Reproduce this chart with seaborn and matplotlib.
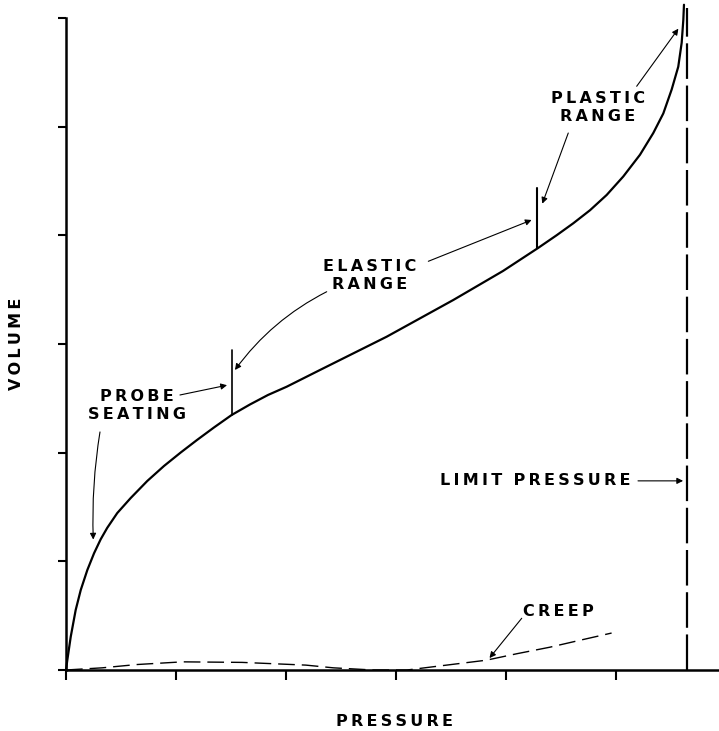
import numpy as np
import pandas as pd
import matplotlib
matplotlib.use("Agg")
import matplotlib.pyplot as plt
import seaborn as sns

# pressuremeter test curve (pressure / volume, arbitrary units = tick spacing)
curve_p = [0.0, 0.012, 0.043, 0.088, 0.134, 0.194, 0.255, 0.315, 0.375, 0.466,
           0.588, 0.739, 0.891, 1.043, 1.191, 1.345, 1.506, 1.673, 1.836,
           2.006, 2.309, 2.915, 3.521, 3.973, 4.291,
           4.461, 4.612, 4.764, 4.915, 5.066, 5.218, 5.339, 5.43, 5.506,
           5.566, 5.597, 5.612, 5.618]
curve_v = [0.0, 0.092, 0.306, 0.552, 0.736, 0.92, 1.074, 1.202, 1.308, 1.444,
           1.582, 1.739, 1.877, 2.001, 2.116, 2.231, 2.346, 2.443, 2.530,
           2.606, 2.76, 3.066, 3.404, 3.671, 3.882,
           4.00, 4.11, 4.23, 4.37, 4.54, 4.74, 4.94, 5.12, 5.34,
           5.55, 5.77, 5.98, 6.12]

# creep curve
creep_p = [0.0, 0.33, 0.64, 1.06, 1.6, 2.18, 2.43, 2.79, 3.1, 3.34, 3.82, 4.1, 4.4, 4.7, 4.96]
creep_v = [0.0, 0.02, 0.05, 0.075, 0.07, 0.045, 0.02, 0.0, 0.0, 0.03, 0.09, 0.15, 0.21, 0.28, 0.34]

limit_pressure = 5.648
elastic_start = 1.506
elastic_end = 4.28

x_ticks = [0, 1, 2, 3, 4, 5]
y_ticks = [0, 1, 2, 3, 4, 5, 6]

sns.set_style("ticks")
plt.rcParams["font.family"] = ["DejaVu Sans"]


def spaced(s):
    # letter-spaced caption like the drawing's lettering
    return "\u2009".join(s)


df_curve = pd.DataFrame({"p": curve_p, "v": curve_v})
df_creep = pd.DataFrame({"p": creep_p, "v": creep_v})

fig = plt.figure(figsize=(7.19, 7.31), dpi=100)
ax = fig.add_axes([66 / 719, 61 / 731, 653 / 719, 670 / 731])

sns.lineplot(data=df_curve, x="p", y="v", sort=False, color="black", lw=1.6, ax=ax, clip_on=False)
sns.lineplot(data=df_creep, x="p", y="v", sort=False, color="black", lw=1.0, ax=ax,
             dashes=False, linestyle=(0, (12, 5)))

# limit pressure line
ax.plot([limit_pressure, limit_pressure], [0, 6.09], color="black", lw=1.6,
        linestyle=(0, (16, 3)), clip_on=False)

# range markers
ax.plot([elastic_start, elastic_start], [2.346, 2.94], color="black", lw=1.2)
ax.plot([elastic_end, elastic_end], [3.88, 4.43], color="black", lw=1.5)

ax.set_xlim(0, 653 / 110)
ax.set_ylim(0, 670 / 108.7)
ax.set_xticks(x_ticks)
ax.set_yticks(y_ticks)
ax.set_xticklabels([])
ax.set_yticklabels([])
ax.tick_params(axis="x", direction="out", length=7, width=1.5, color="black")
ax.tick_params(axis="y", direction="out", length=6, width=1.5, color="black")
sns.despine(ax=ax)
ax.spines["left"].set_bounds(0, 6)
ax.spines["left"].set_linewidth(1.8)
ax.spines["bottom"].set_linewidth(1.8)
ax.spines["left"].set_color("black")
ax.spines["bottom"].set_color("black")
ax.set_xlabel("")
ax.set_ylabel("")

tkw = dict(fontsize=11.5, fontweight="bold", color="black")
arrow = dict(arrowstyle="-|>", lw=0.8, color="black", mutation_scale=9, shrinkA=0, shrinkB=0)

fig.text(17 / 719, 1 - 344 / 731, spaced("VOLUME"), rotation=90, ha="center", va="center", **tkw)
fig.text(395 / 719, 1 - 721 / 731, spaced("PRESSURE"), ha="center", va="center", **tkw)

ax.text(0.645, 2.43, spaced("PROBE") + "\n" + spaced("SEATING"), ha="center", va="center",
        linespacing=1.25, **tkw)
ax.annotate("", xy=(1.464, 2.62), xytext=(1.036, 2.53), arrowprops=arrow)
ax.annotate("", xy=(0.248, 1.20), xytext=(0.309, 2.19),
            arrowprops=dict(arrow, connectionstyle="arc3,rad=0.05"))

ax.text(2.764, 3.63, spaced("ELASTIC") + "\n" + spaced("RANGE"), ha="center", va="center",
        linespacing=1.25, **tkw)
ax.annotate("", xy=(1.536, 2.76), xytext=(2.37, 3.48),
            arrowprops=dict(arrow, connectionstyle="arc3,rad=0.12"))
ax.annotate("", xy=(4.233, 4.14), xytext=(3.294, 3.76), arrowprops=arrow)

ax.text(4.836, 5.175, spaced("PLASTIC") + "\n" + spaced("RANGE"), ha="center", va="center",
        linespacing=1.25, **tkw)
ax.annotate("", xy=(4.33, 4.29), xytext=(4.566, 4.94), arrowprops=arrow)
ax.annotate("", xy=(5.567, 5.90), xytext=(5.188, 5.37), arrowprops=arrow)

ax.text(3.4, 1.74, spaced("LIMIT") + "  " + spaced("PRESSURE"), ha="left", va="center", **tkw)
ax.annotate("", xy=(5.61, 1.74), xytext=(5.2, 1.74), arrowprops=arrow)

ax.text(4.155, 0.54, spaced("CREEP"), ha="left", va="center", **tkw)
ax.annotate("", xy=(3.85, 0.11), xytext=(4.143, 0.476), arrowprops=arrow)

fig.savefig("out.png", dpi=100)
